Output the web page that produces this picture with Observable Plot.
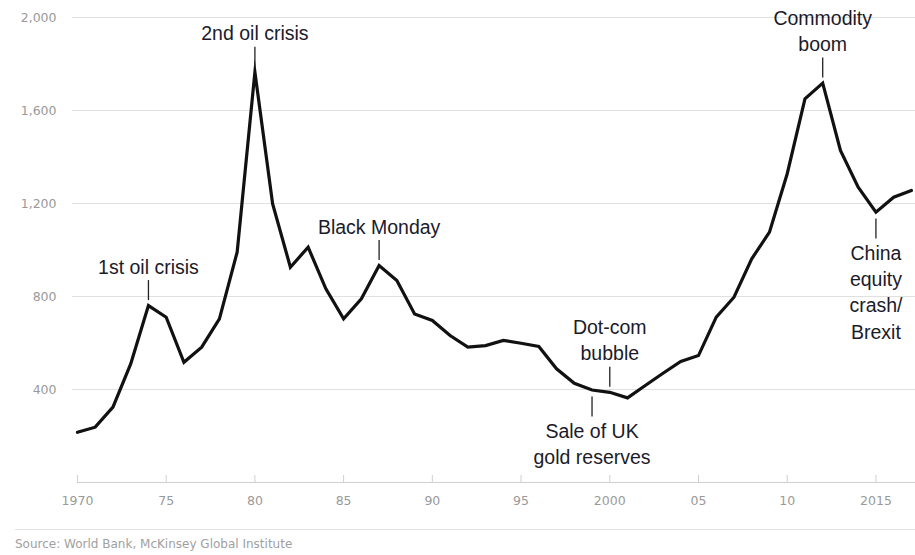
<!DOCTYPE html>
<html><head><meta charset="utf-8">
<script src="https://cdn.jsdelivr.net/npm/d3@7"></script>
<script src="https://cdn.jsdelivr.net/npm/@observablehq/plot@0.6"></script>
<style>
body{margin:0;background:#fff;width:915px;height:555px;overflow:hidden;font-family:"Liberation Sans",Arial,sans-serif;}
#sep{margin:9px 0 0 15px;border-top:1px solid #e3e3e3;}
#source{margin:7px 0 0 15px;font:12px/14px "DejaVu Sans",sans-serif;color:#a0a0a0;white-space:nowrap;}
</style></head><body>
<div id="chart"></div>
<div id="sep"></div>
<div id="source">Source: World Bank, McKinsey Global Institute</div>
<script>
const years = [1970,1971,1972,1973,1974,1975,1976,1977,1978,1979,
  1980,1981,1982,1983,1984,1985,1986,1987,1988,1989,
  1990,1991,1992,1993,1994,1995,1996,1997,1998,1999,
  2000,2001,2002,2003,2004,2005,2006,2007,2008,2009,
  2010,2011,2012,2013,2014,2015,2016,2017];
const values = [216,238,324,510,761,711,517,582,704,991,
  1765,1198,926,1012,833,704,790,933,869,725,
  697,632,582,589,611,599,585,489,427,398,
  388,364,417,470,521,546,711,797,962,1077,
  1328,1650,1718,1428,1270,1163,1227,1256];
const xTicks = [1970,1975,1980,1985,1990,1995,2000,2005,2010,2015];
const xTickLabels = ["1970","75","80","85","90","95","2000","05","10","2015"];
const yTicks = [400,800,1200,1600,2000];
const annotationLabels = ["1st oil crisis","2nd oil crisis","Black Monday","Dot-com\nbubble","Sale of UK\ngold reserves","Commodity\nboom","China\nequity\ncrash/\nBrexit"];
const annotationYears = [1974,1980,1987,2000,1999,2012,2015];
const annotationSides = ["above","above","above","above","below","above","below"];

const data = years.map((year, i) => ({year, value: values[i]}));
const ann = annotationLabels.map((label, i) => ({
  label, year: annotationYears[i], side: annotationSides[i],
  value: values[years.indexOf(annotationYears[i])]
}));
const above = ann.filter(d => d.side === "above");
const below = ann.filter(d => d.side === "below");

const W = 915, H = 520, mT = 17, mB = 38, mL = 72, mR = 0;
const k = 2000 / (H - mT - mB); // data units per pixel

const chart = Plot.plot({
  width: W, height: H,
  marginTop: mT, marginBottom: mB, marginLeft: mL, marginRight: mR,
  style: {background: "#fff", color: "#9a9a9a", fontFamily: "DejaVu Sans, sans-serif", fontSize: "12.5px", overflow: "visible"},
  x: {domain: [1969.72, 2017.23], ticks: xTicks, tickFormat: d => xTickLabels[xTicks.indexOf(d)], tickSize: 0, tickPadding: 14, label: null},
  y: {domain: [0, 2000], ticks: yTicks, tickFormat: d3.format(","), tickSize: 0, tickPadding: 16, label: null},
  marks: [
    Plot.ruleY(yTicks, {stroke: "#e0e0e0", strokeWidth: 1}),
    Plot.ruleY([0], {x1: 1970, x2: 2017.23, stroke: "#cfcfcf", strokeWidth: 1}),
    Plot.ruleX(xTicks, {y1: 0, y2: 7 * k, stroke: "#cfcfcf", strokeWidth: 1}),
    Plot.line(data, {x: "year", y: "value", stroke: "#111", strokeWidth: 3.2, strokeLinejoin: "miter", strokeMiterlimit: 10}),
    Plot.ruleX(above, {x: "year", y1: d => d.value + 5 * k, y2: d => d.value + 25 * k, stroke: "#222", strokeWidth: 1.3}),
    Plot.ruleX(below, {x: "year", y1: d => d.value - 7 * k, y2: d => d.value - 27 * k, stroke: "#222", strokeWidth: 1.3}),
    Plot.text(above, {x: "year", y: d => d.value + 32 * k, text: "label", lineAnchor: "bottom", lineHeight: 1.35, fontSize: 19.5, fontFamily: "Liberation Sans, Arial, sans-serif", fill: "#1b1b29"}),
    Plot.text(below, {x: "year", y: d => d.value - 29 * k, text: "label", lineAnchor: "top", lineHeight: 1.35, fontSize: 19.5, fontFamily: "Liberation Sans, Arial, sans-serif", fill: "#1b1b29"})
  ]
});
document.getElementById("chart").appendChild(chart);
</script>
</body></html>
